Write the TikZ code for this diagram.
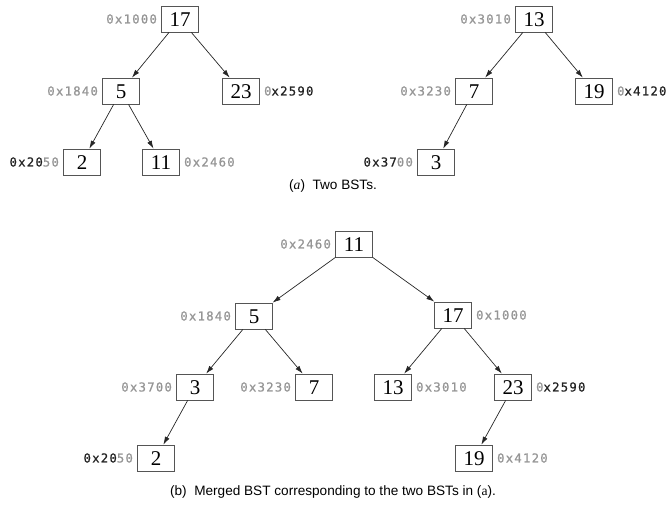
\documentclass[tikz,border=0pt]{standalone}
\usepackage{fontspec}
\setmainfont{Liberation Serif}
\newfontfamily\capfont{Liberation Sans}
\newfontfamily\addrfont[LetterSpace=10,FakeBold=0.8]{DejaVu Sans Mono}
\usetikzlibrary{arrows.meta}
\definecolor{addrgray}{HTML}{959595}
\definecolor{addrdark}{HTML}{222222}
\definecolor{boxline}{HTML}{555555}
\tikzset{
  bst/.style={draw=boxline, line width=0.8pt, minimum width=37pt, minimum height=26pt, inner sep=0pt,
    font=\fontsize{21}{21}\selectfont, text height=14pt, text depth=0pt},
  addr/.style={inner sep=0pt, text=addrgray, font=\addrfont\fontsize{12.3}{12}\selectfont},
  link/.style={draw=black!85, line width=0.7pt, -{Latex[length=8pt,width=5pt]}},
  capt/.style={inner sep=0pt, font=\capfont\fontsize{13.6}{14}\selectfont}
}
\begin{document}
\begin{tikzpicture}[x=1pt,y=-1pt]
\useasboundingbox (0,0) rectangle (666,504);
% ---- (a) left tree
\node[bst] (a17) at (180,19) {17};
\node[bst] (a5) at (121,91) {5};
\node[bst] (a23) at (241,91) {23};
\node[bst] (a2) at (82,162) {2};
\node[bst] (a11) at (161,162) {11};
\node[addr, anchor=east] (la17) at ([xshift=-4pt]a17.west) {0x1000};
\node[addr, anchor=east] (la5) at ([xshift=-4pt]a5.west) {0x1840};
\node[addr, anchor=west] (la23) at ([xshift=4pt]a23.east) {0\textcolor{addrdark}{x2590}};
\node[addr, anchor=east] (la2) at ([xshift=-4pt]a2.west) {\textcolor{addrdark}{0x20}50};
\node[addr, anchor=west] (la11) at ([xshift=4pt]a11.east) {0x2460};
\draw[link] (a17) -- (a5);
\draw[link] (a17) -- (a23);
\draw[link] (a5) -- (a2);
\draw[link] (a5) -- (a11);
% ---- (a) right tree
\node[bst] (a13) at (534,19) {13};
\node[bst] (a7) at (474,91) {7};
\node[bst] (a19) at (594,91) {19};
\node[bst] (a3) at (436,162) {3};
\node[addr, anchor=east] (la13) at ([xshift=-4pt]a13.west) {0x3010};
\node[addr, anchor=east] (la7) at ([xshift=-4pt]a7.west) {0x3230};
\node[addr, anchor=west] (la19) at ([xshift=4pt]a19.east) {0\textcolor{addrdark}{x4120}};
\node[addr, anchor=east] (la3) at ([xshift=-4pt]a3.west) {\textcolor{addrdark}{0x37}00};
\draw[link] (a13) -- (a7);
\draw[link] (a13) -- (a19);
\draw[link] (a7) -- (a3);
\node[capt] (capa) at (333,186) {({\rmfamily\itshape a})\ \ Two BSTs.};
% ---- (b) merged tree
\node[bst] (b11) at (354,244) {11};
\node[bst] (b5) at (254,316) {5};
\node[bst] (b17) at (453,315) {17};
\node[bst] (b3) at (195,387) {3};
\node[bst] (b7) at (314,387) {7};
\node[bst] (b13) at (393,387) {13};
\node[bst] (b23) at (513,387) {23};
\node[bst] (b2) at (156,458) {2};
\node[bst] (b19) at (474,458) {19};
\node[addr, anchor=east] (lb11) at ([xshift=-4pt]b11.west) {0x2460};
\node[addr, anchor=east] (lb5) at ([xshift=-4pt]b5.west) {0x1840};
\node[addr, anchor=west] (lb17) at ([xshift=4pt]b17.east) {0x1000};
\node[addr, anchor=east] (lb3) at ([xshift=-4pt]b3.west) {0x3700};
\node[addr, anchor=east] (lb7) at ([xshift=-4pt]b7.west) {0x3230};
\node[addr, anchor=west] (lb13) at ([xshift=4pt]b13.east) {0x3010};
\node[addr, anchor=west] (lb23) at ([xshift=4pt]b23.east) {0\textcolor{addrdark}{x2590}};
\node[addr, anchor=east] (lb2) at ([xshift=-4pt]b2.west) {\textcolor{addrdark}{0x20}50};
\node[addr, anchor=west] (lb19) at ([xshift=4pt]b19.east) {0x4120};
\draw[link] (b11) -- (b5);
\draw[link] (b11) -- (b17);
\draw[link] (b5) -- (b3);
\draw[link] (b5) -- (b7);
\draw[link] (b3) -- (b2);
\draw[link] (b17) -- (b13);
\draw[link] (b17) -- (b23);
\draw[link] (b23) -- (b19);
\node[capt] (capb) at (333,492) {(b)\ \ Merged BST corresponding to the two BSTs in ({\rmfamily a}).};
\end{tikzpicture}
\end{document}
